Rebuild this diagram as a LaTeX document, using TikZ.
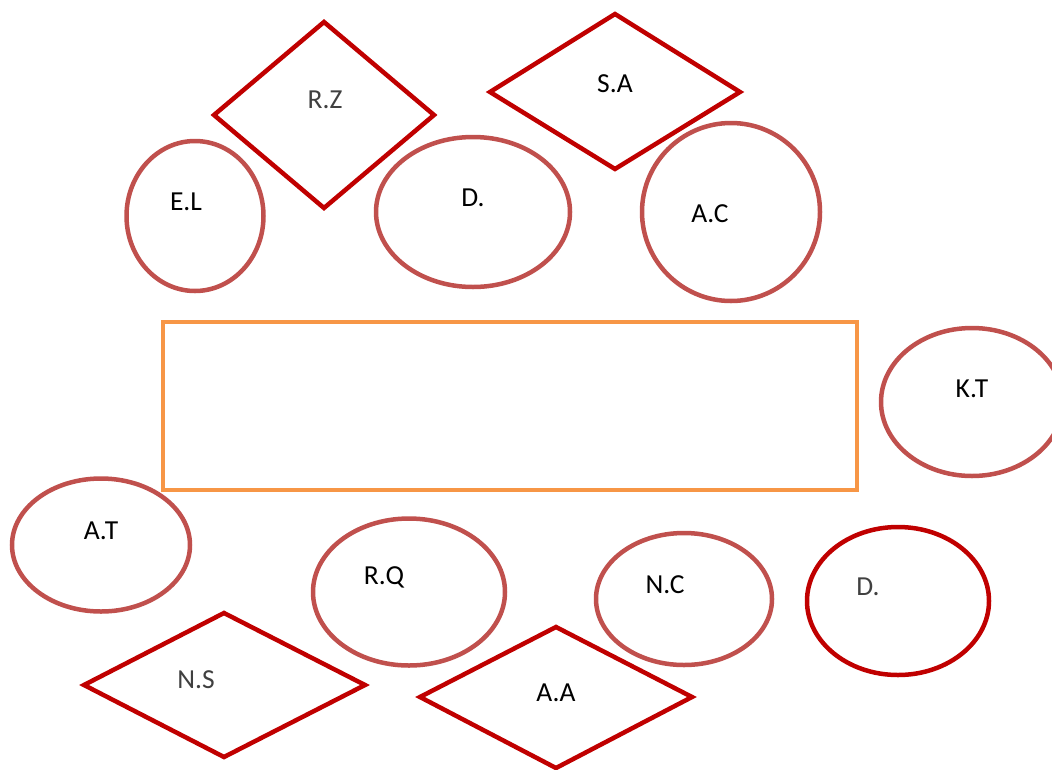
\documentclass[tikz,border=0pt]{standalone}
\usepackage{fontspec}
\setmainfont{Carlito}
\usetikzlibrary{shapes.geometric}
\definecolor{ellred}{HTML}{C0504D}
\definecolor{darkred}{HTML}{C00000}
\definecolor{orng}{HTML}{F79646}
\definecolor{txtgray}{HTML}{404040}
\tikzset{
  ell/.style={draw=ellred, line width=4.5pt, ellipse, inner sep=0pt},
  ellb/.style={draw=darkred, line width=4.5pt, ellipse, inner sep=0pt},
  dia/.style={draw=darkred, line width=4.5pt, line join=miter},
  lbl/.style={font=\fontsize{27.5}{30}\selectfont, text=black},
  glbl/.style={font=\fontsize{27.5}{30}\selectfont, text=txtgray},
}
\begin{document}
\begin{tikzpicture}[x=1pt,y=-1pt]
\useasboundingbox (0,0) rectangle (1052,769);
\clip (0,0) rectangle (1052,769);
% diamonds
\coordinate (rzT) at (324,22); \coordinate (rzL) at (214,115); \coordinate (rzB) at (324,208); \coordinate (rzR) at (434,115);
\draw[dia] (rzT) -- (rzR) -- (rzB) -- (rzL) -- cycle;
\node[glbl] (rz) at (325,100) {R.Z};
\coordinate (saT) at (615,14); \coordinate (saL) at (490,92); \coordinate (saB) at (615,169); \coordinate (saR) at (740,92);
\draw[dia] (saT) -- (saR) -- (saB) -- (saL) -- cycle;
\node[lbl] (sa) at (615,84) {S.A};
\coordinate (nsT) at (224,613); \coordinate (nsL) at (84,685); \coordinate (nsB) at (224,757); \coordinate (nsR) at (365,685);
\draw[dia] (nsT) -- (nsR) -- (nsB) -- (nsL) -- cycle;
\node[glbl] (ns) at (196,680) {N.S};
\coordinate (aaT) at (556,627); \coordinate (aaL) at (420,697); \coordinate (aaB) at (556,768); \coordinate (aaR) at (692,697);
\draw[dia] (aaT) -- (aaR) -- (aaB) -- (aaL) -- cycle;
\node[lbl] (aa) at (556,693) {A.A};
% ellipses
\node[ell, minimum width=137pt, minimum height=150pt] (el) at (195,216) {};
\node[lbl] (elt) at (186,202) {E.L};
\node[ell, minimum width=194pt, minimum height=150pt] (d1) at (473,212) {};
\node[lbl] (d1t) at (473,198) {D.};
\node[ell, minimum width=178pt, minimum height=178pt] (ac) at (731,212) {};
\node[lbl] (act) at (710,214) {A.C};
\node[ell, minimum width=182pt, minimum height=148pt] (kt) at (972,402) {};
\node[lbl] (ktt) at (972,389) {K.T};
\node[ell, minimum width=178pt, minimum height=133pt] (at) at (101,545) {};
\node[lbl] (att) at (101,531) {A.T};
\node[ell, minimum width=192pt, minimum height=147pt] (rq) at (409,592) {};
\node[lbl] (rqt) at (384,577) {R.Q};
\node[ell, minimum width=176pt, minimum height=132pt] (nc) at (684,599) {};
\node[lbl] (nct) at (665,585) {N.C};
\node[ellb, minimum width=182pt, minimum height=148pt] (d2) at (898,601) {};
\node[glbl] (d2t) at (868,587) {D.};
% rectangle
\node[draw=orng, line width=4pt, minimum width=694pt, minimum height=168pt, inner sep=0pt] (box) at (510,406) {};
\end{tikzpicture}
\end{document}
